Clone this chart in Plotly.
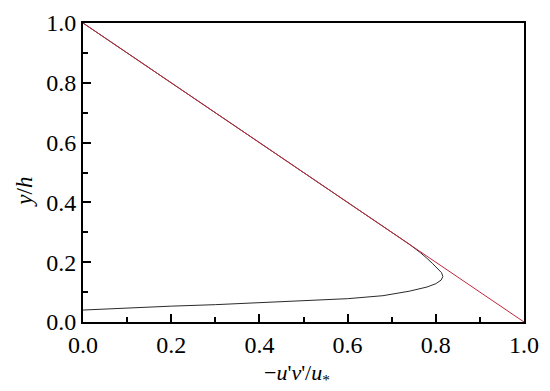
import plotly.graph_objects as go

# Reynolds shear stress profile (black curve)
stress_x = [0.0, 0.1, 0.2, 0.3, 0.4, 0.5, 0.6, 0.68, 0.74, 0.78, 0.80, 0.812, 0.816,
            0.813, 0.805, 0.793, 0.78, 0.765, 0.74, 0.6, 0.4, 0.2, 0.0]
stress_y = [0.040, 0.047, 0.053, 0.058, 0.064, 0.071, 0.078, 0.088, 0.103, 0.117, 0.128,
            0.140, 0.152, 0.165, 0.178, 0.195, 0.213, 0.232, 0.26, 0.4, 0.6, 0.8, 1.0]

# Linear total-stress line (red)
line_x = [0.0, 1.0]
line_y = [1.0, 0.0]

x_ticks = [0.0, 0.2, 0.4, 0.6, 0.8, 1.0]
y_ticks = [0.0, 0.2, 0.4, 0.6, 0.8, 1.0]

font_family = "Liberation Serif"

fig = go.Figure()
fig.add_trace(go.Scatter(x=stress_x, y=stress_y, mode="lines",
                         line=dict(color="#2a2a2a", width=1), showlegend=False))
fig.add_trace(go.Scatter(x=line_x, y=line_y, mode="lines",
                         line=dict(color="#c0283a", width=1), showlegend=False))

axis_common = dict(
    showgrid=False, zeroline=False,
    showline=True, linecolor="black", linewidth=2, mirror=True,
    ticks="inside", ticklen=8, tickwidth=2, tickcolor="black",
    tickfont=dict(family=font_family, size=24, color="black"),
    minor=dict(ticks="inside", ticklen=5, tickwidth=2, tickcolor="black", dtick=0.1),
)

fig.update_xaxes(range=[0, 1], tickvals=x_ticks, ticktext=[f"{v:.1f}" for v in x_ticks],
                 **axis_common)
fig.update_yaxes(range=[0, 1], tickvals=y_ticks, ticktext=[f"{v:.1f}" for v in y_ticks],
                 **axis_common)

fig.add_annotation(text="\u2212<i>u</i>'<i>v</i>'/<i>u</i><sub>*</sub>",
                   xref="paper", yref="paper", x=0.485, y=-0.175,
                   xanchor="center", yanchor="middle", showarrow=False,
                   font=dict(family=font_family, size=22, color="black"))
fig.add_annotation(text="<i>y</i>/<i>h</i>",
                   xref="paper", yref="paper", x=-0.132, y=0.435,
                   xanchor="center", yanchor="middle", showarrow=False, textangle=-90,
                   font=dict(family=font_family, size=23, color="black"))

fig.update_layout(
    width=542, height=383,
    margin=dict(l=75, r=26, t=15, b=69, autoexpand=False),
    paper_bgcolor="white", plot_bgcolor="white",
    font=dict(family=font_family, color="black"),
)

fig.write_html("out.html")
